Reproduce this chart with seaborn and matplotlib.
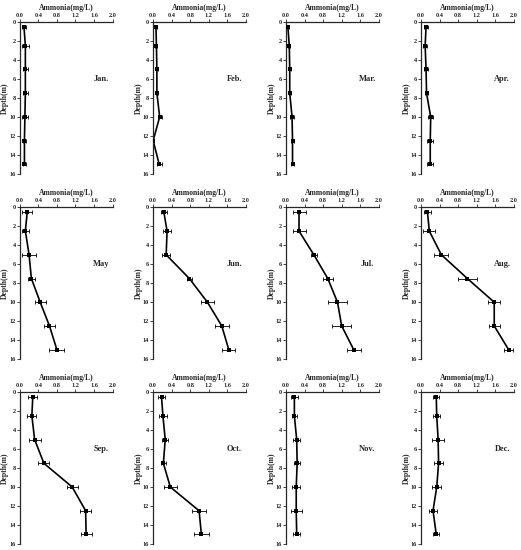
import matplotlib
matplotlib.use("Agg")
import matplotlib.pyplot as plt
import seaborn as sns
import pandas as pd
import numpy as np

# Depth of each sample (m)
depths = [0.5, 2.5, 5, 7.5, 10, 12.5, 15]

months = ['Jan.', 'Feb.', 'Mar.', 'Apr.', 'May', 'Jun.',
          'Jul.', 'Aug.', 'Sep.', 'Oct.', 'Nov.', 'Dec.']

# Mean ammonia (mg/L) per depth
jan = [0.09, 0.12, 0.12, 0.12, 0.11, 0.10, 0.10]
feb = [0.06, 0.07, 0.08, 0.08, 0.14, 0.00, 0.13]
mar = [0.04, 0.07, 0.08, 0.08, 0.13, 0.14, 0.14]
apr = [0.11, 0.09, 0.11, 0.12, 0.21, 0.20, 0.20]
may = [0.16, 0.12, 0.20, 0.25, 0.44, 0.64, 0.80]
jun = [0.23, 0.30, 0.28, 0.78, 1.17, 1.48, 1.63]
jul = [0.28, 0.28, 0.60, 0.90, 1.11, 1.20, 1.46]
aug = [0.14, 0.18, 0.44, 1.00, 1.58, 1.58, 1.89]
sep = [0.28, 0.26, 0.32, 0.52, 1.13, 1.42, 1.43]
octo = [0.18, 0.21, 0.26, 0.22, 0.37, 0.99, 1.04]
nov = [0.18, 0.18, 0.23, 0.24, 0.22, 0.22, 0.23]
dec = [0.33, 0.34, 0.37, 0.38, 0.34, 0.26, 0.33]

# Standard deviations (error bars)
jan_sd = [0.05, 0.07, 0.06, 0.06, 0.07, 0.04, 0.04]
feb_sd = [0.02, 0.02, 0.02, 0.02, 0.04, 0.01, 0.05]
mar_sd = [0.02, 0.02, 0.02, 0.02, 0.04, 0.04, 0.04]
apr_sd = [0.05, 0.04, 0.04, 0.04, 0.06, 0.07, 0.06]
may_sd = [0.11, 0.07, 0.15, 0.08, 0.12, 0.12, 0.16]
jun_sd = [0.06, 0.08, 0.08, 0.05, 0.14, 0.15, 0.14]
jul_sd = [0.14, 0.14, 0.07, 0.11, 0.20, 0.20, 0.15]
aug_sd = [0.08, 0.13, 0.15, 0.20, 0.13, 0.12, 0.09]
sep_sd = [0.10, 0.10, 0.13, 0.12, 0.12, 0.12, 0.12]
oct_sd = [0.07, 0.09, 0.07, 0.05, 0.14, 0.16, 0.17]
nov_sd = [0.07, 0.06, 0.07, 0.07, 0.09, 0.12, 0.08]
dec_sd = [0.06, 0.07, 0.13, 0.10, 0.10, 0.08, 0.06]

means = [jan, feb, mar, apr, may, jun, jul, aug, sep, octo, nov, dec]
sds = [jan_sd, feb_sd, mar_sd, apr_sd, may_sd, jun_sd,
       jul_sd, aug_sd, sep_sd, oct_sd, nov_sd, dec_sd]

rows = []
for m, vals, errs in zip(months, means, sds):
    for d, v, e in zip(depths, vals, errs):
        rows.append({'month': m, 'depth': d, 'ammonia': v, 'sd': e})
df = pd.DataFrame(rows)

sns.set_style("ticks")
plt.rcParams['font.family'] = ['Liberation Serif', 'DejaVu Serif']
plt.rcParams['font.weight'] = 'bold'
plt.rcParams['axes.labelweight'] = 'bold'

fig = plt.figure(figsize=(5.21, 5.5), dpi=100)

lefts = [0.038, 0.294, 0.549, 0.808]
bottoms = [0.684, 0.347, 0.011]
w, h = 0.178, 0.276

for i, m in enumerate(months):
    r, c = divmod(i, 4)
    ax = fig.add_axes([lefts[c], bottoms[r], w, h])
    sub = df[df['month'] == m].sort_values('depth')
    # profile line in depth order
    sns.lineplot(data=sub, x='ammonia', y='depth', sort=False,
                 estimator=None, errorbar=None, color='black',
                 linewidth=1.2, solid_joinstyle='round', ax=ax, zorder=2)
    sns.scatterplot(data=sub, x='ammonia', y='depth', color='black',
                    marker='s', s=7, linewidth=0, ax=ax, zorder=3)
    ax.errorbar(sub['ammonia'], sub['depth'], xerr=sub['sd'], fmt='none',
                ecolor='black', elinewidth=0.6, capsize=1.5, capthick=0.6)
    ax.set_xlim(0, 2.0)
    ax.set_ylim(16, 0)
    ax.set_xticks(np.arange(0, 2.01, 0.4))
    ax.set_xticklabels([f'{t:.1f}' for t in np.arange(0, 2.01, 0.4)])
    ax.set_yticks(range(0, 17, 2))
    ax.xaxis.tick_top()
    ax.xaxis.set_label_position('top')
    ax.set_xlabel('Ammonia(mg/L)', fontsize=5.5, labelpad=2)
    ax.set_ylabel('Depth(m)', fontsize=5.5, labelpad=0)
    ax.tick_params(labelsize=4.5, length=2, width=0.6, pad=1)
    for s in ['right', 'bottom']:
        ax.spines[s].set_visible(False)
    for s in ['top', 'left']:
        ax.spines[s].set_linewidth(0.9)
    ax.text(1.75, 6, m, fontsize=6, fontweight='bold', ha='center', va='center')

fig.savefig('out.png', dpi=100)
